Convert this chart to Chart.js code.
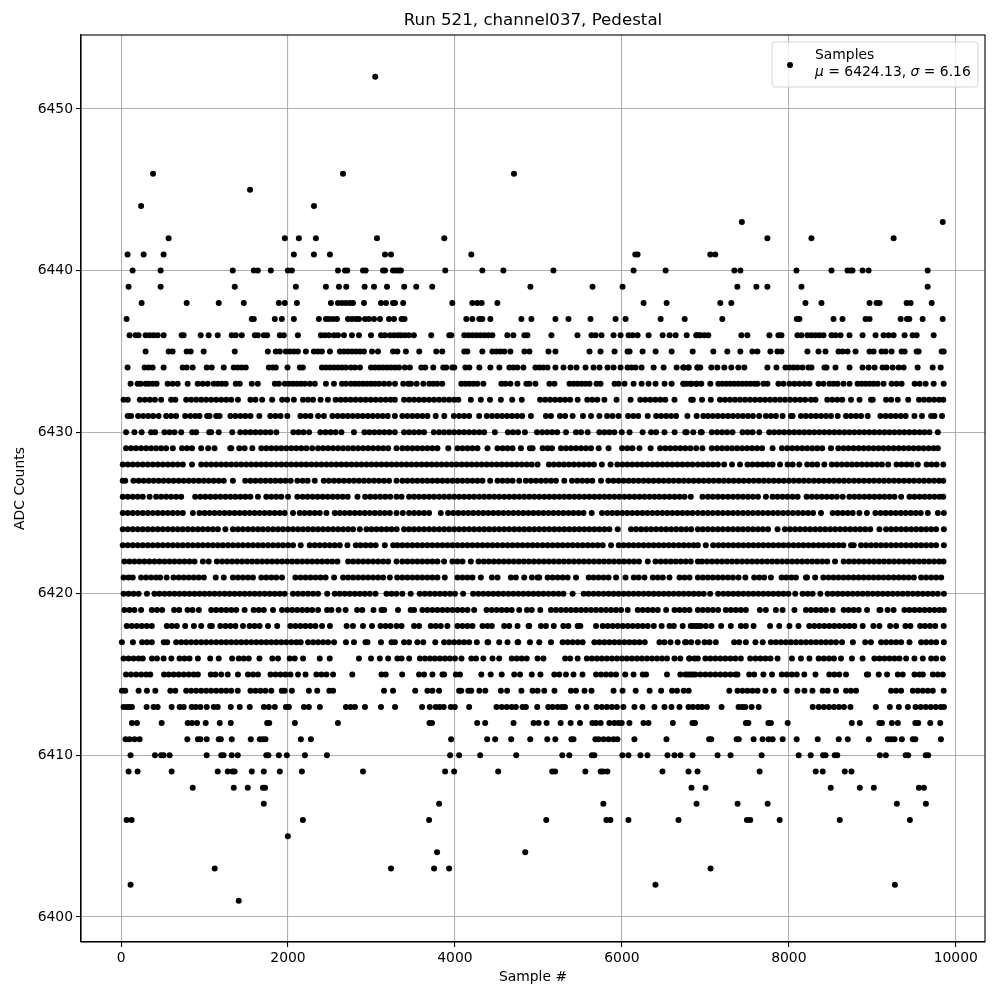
<!DOCTYPE html>
<html>
<head>
<meta charset="utf-8">
<title>Run 521, channel037, Pedestal</title>
<script src="https://cdn.jsdelivr.net/npm/chart.js@4"></script>
<style>
html, body { margin: 0; padding: 0; background: #fff; }
canvas { display: block; }
</style>
</head>
<body>
<canvas id="myChart" width="1000" height="1000"></canvas>
<script>
// sample numbers, one list per ADC level
const s6401 = [1410];
const s6402 = [114, 6402, 9270];
const s6403 = [1122, 3234, 3750, 3930, 7062];
const s6404 = [3786, 4842];
const s6405 = [1998];
const s6406 = [66, 126, 2178, 3690, 5094, 5814, 5862, 6078, 6678, 7498, 7538, 7890, 8610, 9450];
const s6407 = [1710, 3810, 5778, 6894, 7386, 7746, 9294, 9642];
const s6408 = [858, 1350, 1518, 1700, 1725, 6834, 7002, 8502, 8850, 9018, 9558, 9618];
const s6409 = [90, 198, 606, 1158, 1278, 1335, 1360, 1566, 1710, 1902, 2166, 2898, 3882, 3990, 4518, 5165, 5200, 5562, 5746, 5775, 5826, 6486, 6798, 6906, 7650, 8322, 8406, 8670, 8750];
const s6410 = [114, 406, 480, 510, 582, 1026, 1200, 1228, 1326, 1398, 1740, 1765, 1890, 1986, 2202, 2466, 3942, 4050, 4302, 4734, 5286, 5370, 5640, 5670, 6006, 6078, 6222, 6306, 6546, 6630, 6702, 6846, 7146, 7302, 7674, 8118, 8262, 8410, 8440, 8550, 8580, 9090, 9162, 9400, 9430, 9640, 9670];
const s6411 = [54, 102, 162, 222, 794, 920, 950, 1026, 1170, 1195, 1326, 1554, 1662, 1700, 1730, 2154, 2274, 3954, 4386, 4482, 4674, 4902, 5106, 5202, 5395, 5420, 5682, 5720, 5780, 5840, 5900, 5946, 6150, 6534, 7045, 7070, 7375, 7400, 7578, 7686, 7758, 7806, 7926, 8094, 8346, 8598, 8706, 8958, 9186, 9225, 9266, 9354, 9485, 9515, 9822];
const s6412 = [130, 190, 486, 798, 850, 910, 1014, 1182, 1314, 1750, 1775, 2082, 2598, 3695, 3725, 4266, 4362, 4702, 4942, 5002, 5098, 5266, 5386, 5498, 5646, 5690, 5746, 5850, 5910, 5960, 5998, 6090, 6258, 6318, 6610, 6845, 6875, 7485, 7515, 7755, 7785, 7986, 8754, 8850, 9085, 9115, 9234, 9306, 9515, 9550, 9694, 9814];
const s6413 = [30, 70, 100, 130, 306, 390, 438, 606, 702, 750, 846, 894, 950, 1026, 1110, 1158, 1314, 1422, 1542, 1710, 1770, 1842, 1974, 2010, 2190, 2250, 2382, 2694, 2750, 2802, 2922, 3114, 3282, 3606, 3698, 3770, 3818, 3866, 3950, 3998, 4170, 4498, 4560, 4620, 4680, 4730, 4810, 4850, 4986, 5118, 5170, 5230, 5280, 5318, 5474, 5574, 5698, 5760, 5820, 5880, 5940, 6018, 6150, 6246, 6390, 6510, 6594, 6690, 6798, 6850, 6910, 6960, 7018, 7194, 7398, 7440, 7478, 7554, 7638, 8286, 8358, 8420, 8480, 8540, 8600, 8660, 8738, 9042, 9210, 9318, 9426, 9518, 9580, 9640, 9700, 9760, 9820, 9858];
const s6414 = [10, 50, 210, 310, 410, 590, 650, 780, 840, 900, 960, 1020, 1080, 1140, 1200, 1260, 1320, 1398, 1550, 1610, 1670, 1730, 1800, 1925, 1960, 2046, 2250, 2350, 2495, 2540, 3150, 3258, 3524, 3670, 3730, 3810, 4050, 4075, 4160, 4195, 4292, 4364, 4550, 4625, 4796, 4930, 4990, 5070, 5192, 5390, 5450, 5552, 5636, 5900, 6008, 6165, 6332, 6470, 6600, 6660, 6740, 6800, 7287, 7385, 7445, 7505, 7565, 7625, 7719, 7819, 7971, 8103, 8187, 8283, 8405, 8465, 8565, 8685, 8745, 8805, 9225, 9285, 9345, 9485, 9545, 9605, 9665, 9725, 9855];
const s6415 = [60, 120, 180, 240, 300, 350, 515, 570, 630, 690, 750, 810, 870, 920, 1075, 1130, 1200, 1278, 1400, 1520, 1580, 1640, 1790, 1850, 1910, 1970, 2030, 2120, 2210, 2340, 2400, 2460, 2540, 2770, 3120, 3170, 3368, 3570, 3630, 3730, 3850, 3870, 4010, 4060, 4316, 4428, 4560, 4710, 4780, 4920, 5024, 5190, 5250, 5330, 5420, 5528, 5690, 5750, 5810, 5870, 5930, 6040, 6140, 6250, 6290, 6540, 6700, 6760, 6820, 6850, 6790, 6880, 6940, 7000, 7060, 7120, 7180, 7240, 7300, 7360, 7385, 7525, 7585, 7695, 7799, 7915, 7975, 8035, 8095, 8185, 8319, 8485, 8545, 8605, 8685, 8935, 8950, 9077, 9177, 9305, 9365, 9505, 9565, 9605, 9725, 9785, 9845];
const s6416 = [30, 90, 150, 210, 260, 370, 430, 510, 602, 700, 760, 820, 920, 1068, 1170, 1330, 1410, 1470, 1530, 1658, 1812, 1880, 2020, 2080, 2180, 2380, 2500, 2850, 2994, 3100, 3200, 3310, 3360, 3452, 3580, 3640, 3700, 3760, 3820, 3880, 3940, 4000, 4078, 4196, 4252, 4340, 4450, 4530, 4680, 4740, 4800, 4860, 4990, 5060, 5320, 5380, 5470, 5580, 5640, 5700, 5760, 5820, 5880, 5940, 6000, 6060, 6120, 6180, 6240, 6300, 6360, 6420, 6480, 6540, 6630, 6700, 6810, 6870, 6910, 6805, 7000, 7060, 7120, 7180, 7240, 7300, 7360, 7425, 7537, 7600, 7660, 7720, 7780, 7865, 8037, 8145, 8247, 8357, 8420, 8480, 8540, 8625, 8755, 8883, 9025, 9085, 9145, 9205, 9265, 9325, 9405, 9505, 9605, 9705, 9765, 9845];
const s6417 = [10, 142, 252, 310, 368, 512, 552, 660, 720, 780, 840, 900, 960, 1020, 1080, 1140, 1200, 1260, 1320, 1380, 1440, 1500, 1560, 1620, 1680, 1740, 1800, 1860, 1920, 1980, 2040, 2100, 2152, 2240, 2300, 2360, 2420, 2480, 2552, 2694, 2790, 2928, 2952, 3114, 3240, 3280, 3390, 3450, 3550, 3620, 3764, 3870, 3930, 3990, 4050, 4110, 4170, 4262, 4390, 4398, 4530, 4630, 4750, 4758, 4898, 5010, 5150, 5290, 5350, 5410, 5470, 5530, 5670, 5730, 5790, 5850, 5910, 5970, 6030, 6090, 6150, 6210, 6274, 6450, 6510, 6582, 6668, 6770, 6830, 6910, 6757, 6990, 7050, 7125, 7345, 7405, 7485, 7600, 7687, 7785, 7845, 7905, 7965, 8025, 8085, 8145, 8205, 8265, 8325, 8385, 8445, 8505, 8565, 8637, 8767, 8915, 8983, 9105, 9165, 9225, 9285, 9345, 9445, 9585, 9645, 9705, 9765, 9857];
const s6418 = [68, 128, 188, 248, 308, 368, 548, 608, 668, 768, 872, 960, 1068, 1088, 1188, 1250, 1310, 1370, 1460, 1540, 1600, 1660, 1760, 1870, 2028, 2088, 2148, 2208, 2268, 2328, 2408, 2502, 2702, 2778, 2898, 3006, 3108, 3168, 3228, 3300, 3360, 3510, 3570, 3710, 3770, 3830, 3910, 4030, 4090, 4150, 4210, 4330, 4390, 4442, 4590, 4650, 4750, 4882, 4890, 5030, 5090, 5184, 5298, 5358, 5470, 5502, 5690, 5770, 5830, 5890, 5950, 6010, 6070, 6130, 6190, 6250, 6310, 6382, 6476, 6570, 6622, 6728, 6850, 6910, 6825, 6885, 6945, 7005, 7073, 7189, 7305, 7425, 7485, 7577, 7775, 7885, 8007, 8115, 8245, 8305, 8365, 8425, 8485, 8545, 8605, 8665, 8725, 8785, 8885, 9013, 9085, 9213, 9285, 9397, 9457, 9573, 9630, 9690, 9753, 9855];
const s6419 = [40, 100, 160, 240, 368, 430, 492, 636, 696, 796, 856, 932, 1080, 1140, 1200, 1260, 1320, 1380, 1480, 1588, 1650, 1710, 1820, 1928, 1990, 2050, 2110, 2170, 2230, 2290, 2360, 2468, 2520, 2606, 2690, 2828, 2890, 3024, 3120, 3152, 3318, 3470, 3510, 3610, 3670, 3730, 3790, 3850, 3910, 3970, 4030, 4090, 4150, 4230, 4378, 4440, 4500, 4560, 4620, 4680, 4770, 4862, 4920, 5022, 5150, 5210, 5270, 5330, 5390, 5450, 5510, 5570, 5630, 5690, 5750, 5810, 5870, 5930, 5990, 6070, 6190, 6250, 6310, 6370, 6430, 6530, 6630, 6690, 6750, 6810, 6910, 6970, 7030, 7090, 7153, 7245, 7305, 7365, 7425, 7485, 7653, 7725, 7845, 7925, 8067, 8205, 8265, 8325, 8385, 8445, 8525, 8657, 8717, 8777, 8837, 8937, 9085, 9097, 9183, 9255, 9385, 9445, 9505, 9565, 9625, 9685, 9745, 9805, 9857];
const s6420 = [30, 90, 150, 210, 310, 400, 460, 520, 580, 640, 700, 760, 820, 880, 940, 1000, 1060, 1120, 1180, 1240, 1300, 1360, 1420, 1480, 1540, 1600, 1660, 1720, 1780, 1840, 1900, 1960, 2060, 2120, 2180, 2240, 2300, 2360, 2470, 2560, 2620, 2680, 2740, 2800, 2860, 2920, 2980, 3048, 3180, 3240, 3300, 3370, 3470, 3578, 3640, 3700, 3760, 3820, 3880, 3940, 4000, 4098, 4218, 4280, 4340, 4400, 4460, 4520, 4580, 4640, 4700, 4760, 4820, 4880, 4940, 5000, 5060, 5120, 5180, 5240, 5300, 5410, 5542, 5600, 5660, 5720, 5780, 5840, 5900, 5960, 6020, 6080, 6140, 6200, 6260, 6320, 6380, 6440, 6500, 6560, 6620, 6680, 6740, 6800, 6860, 6920, 6980, 7057, 7153, 7215, 7275, 7335, 7395, 7455, 7515, 7575, 7635, 7695, 7755, 7815, 7875, 7935, 7995, 8077, 8165, 8225, 8285, 8377, 8465, 8525, 8585, 8645, 8705, 8765, 8825, 8885, 8945, 9005, 9065, 9125, 9185, 9245, 9305, 9365, 9425, 9485, 9545, 9605, 9665, 9725, 9785, 9857];
const s6421 = [30, 90, 140, 240, 300, 360, 420, 468, 546, 628, 690, 750, 810, 870, 930, 992, 1134, 1230, 1340, 1400, 1460, 1520, 1580, 1680, 1740, 1800, 1860, 1928, 2088, 2150, 2210, 2270, 2330, 2390, 2450, 2552, 2660, 2720, 2780, 2840, 2900, 2960, 3020, 3080, 3140, 3220, 3308, 3370, 3430, 3490, 3550, 3610, 3670, 3730, 3790, 3878, 4030, 4090, 4150, 4210, 4310, 4442, 4510, 4670, 4730, 4830, 4922, 4990, 5010, 5110, 5170, 5230, 5290, 5350, 5450, 5602, 5660, 5720, 5780, 5840, 5930, 6044, 6142, 6200, 6270, 6370, 6430, 6490, 6570, 6690, 6750, 6810, 6910, 6970, 7030, 7090, 7150, 7210, 7270, 7330, 7397, 7479, 7585, 7645, 7705, 7785, 7913, 7970, 8030, 8085, 8205, 8217, 8315, 8413, 8475, 8535, 8595, 8655, 8715, 8775, 8835, 8895, 8955, 9015, 9075, 9135, 9195, 9255, 9315, 9375, 9435, 9497, 9585, 9645, 9705, 9765, 9825];
const s6422 = [40, 100, 160, 220, 280, 340, 400, 460, 520, 580, 640, 700, 760, 820, 880, 980, 1050, 1148, 1210, 1270, 1330, 1390, 1450, 1510, 1570, 1630, 1690, 1750, 1810, 1870, 1930, 1990, 2050, 2110, 2170, 2230, 2290, 2350, 2410, 2470, 2530, 2592, 2720, 2780, 2840, 2900, 2960, 3020, 3080, 3140, 3200, 3300, 3370, 3430, 3490, 3550, 3610, 3670, 3730, 3790, 3870, 3970, 4030, 4090, 4190, 4282, 4345, 4405, 4465, 4525, 4585, 4645, 4705, 4765, 4825, 4885, 4945, 5005, 5065, 5125, 5185, 5245, 5305, 5365, 5425, 5485, 5545, 5605, 5665, 5725, 5785, 5845, 5905, 5965, 6025, 6085, 6145, 6205, 6310, 6402, 6465, 6525, 6585, 6645, 6705, 6765, 6825, 6910, 6960, 7020, 7080, 7140, 7200, 7260, 7320, 7380, 7440, 7500, 7560, 7620, 7680, 7740, 7800, 7860, 7920, 7980, 8040, 8100, 8160, 8220, 8280, 8340, 8400, 8460, 8553, 8657, 8720, 8780, 8840, 8900, 8960, 9020, 9080, 9140, 9200, 9260, 9320, 9380, 9440, 9500, 9560, 9620, 9680, 9740, 9800, 9853];
const s6423 = [20, 80, 140, 200, 260, 320, 380, 440, 500, 560, 620, 680, 740, 800, 860, 920, 980, 1040, 1100, 1160, 1220, 1280, 1340, 1400, 1460, 1520, 1580, 1640, 1700, 1760, 1820, 1880, 1940, 2000, 2060, 2152, 2260, 2320, 2380, 2440, 2500, 2560, 2620, 2712, 2812, 2870, 2930, 2990, 3050, 3160, 3260, 3310, 3370, 3430, 3490, 3550, 3610, 3670, 3730, 3790, 3850, 3910, 3970, 4030, 4090, 4150, 4210, 4270, 4330, 4390, 4450, 4510, 4570, 4630, 4690, 4750, 4810, 4870, 4930, 4990, 5050, 5110, 5170, 5230, 5290, 5350, 5410, 5470, 5530, 5590, 5650, 5710, 5770, 5870, 5962, 6020, 6080, 6140, 6200, 6260, 6320, 6380, 6440, 6500, 6560, 6620, 6680, 6740, 6800, 6860, 6910, 7005, 7093, 7155, 7215, 7275, 7335, 7395, 7455, 7515, 7575, 7635, 7695, 7755, 7815, 7875, 7935, 7995, 8055, 8115, 8175, 8235, 8295, 8355, 8415, 8475, 8535, 8595, 8653, 8745, 8777, 8865, 8925, 8985, 9045, 9105, 9165, 9225, 9285, 9345, 9405, 9465, 9525, 9585, 9645, 9705, 9765, 9857];
const s6424 = [20, 80, 140, 200, 260, 320, 380, 440, 500, 560, 620, 680, 740, 800, 860, 920, 980, 1040, 1100, 1160, 1250, 1340, 1400, 1460, 1520, 1580, 1640, 1700, 1760, 1820, 1880, 1940, 2000, 2060, 2120, 2180, 2240, 2300, 2360, 2420, 2480, 2540, 2600, 2660, 2720, 2780, 2860, 2940, 3000, 3060, 3120, 3180, 3240, 3302, 3390, 3450, 3510, 3570, 3630, 3690, 3750, 3810, 3870, 3930, 3990, 4050, 4110, 4170, 4230, 4290, 4350, 4410, 4470, 4530, 4590, 4650, 4710, 4770, 4830, 4890, 4950, 5010, 5070, 5130, 5190, 5250, 5310, 5370, 5430, 5490, 5550, 5610, 5670, 5730, 5790, 5850, 5950, 6110, 6170, 6230, 6290, 6350, 6410, 6470, 6530, 6590, 6650, 6710, 6770, 6830, 6910, 6970, 7030, 7090, 7150, 7210, 7270, 7330, 7390, 7450, 7510, 7570, 7630, 7690, 7750, 7865, 7953, 8015, 8075, 8135, 8195, 8255, 8315, 8375, 8435, 8495, 8555, 8615, 8675, 8735, 8795, 8855, 8915, 8975, 9085, 9165, 9225, 9285, 9345, 9405, 9465, 9525, 9585, 9645, 9705, 9765, 9857];
const s6425 = [20, 80, 140, 200, 260, 320, 380, 440, 500, 560, 620, 680, 740, 860, 940, 1000, 1060, 1120, 1180, 1240, 1300, 1360, 1420, 1480, 1540, 1600, 1660, 1720, 1780, 1840, 1900, 1960, 2060, 2140, 2200, 2260, 2320, 2380, 2460, 2560, 2620, 2680, 2740, 2800, 2860, 2920, 2980, 3040, 3100, 3160, 3220, 3300, 3375, 3450, 3510, 3570, 3630, 3690, 3830, 3918, 3980, 4040, 4100, 4160, 4220, 4280, 4340, 4400, 4460, 4520, 4580, 4640, 4700, 4760, 4820, 4880, 4940, 5000, 5060, 5120, 5180, 5240, 5300, 5360, 5420, 5480, 5540, 5638, 5762, 5825, 5885, 5945, 6005, 6065, 6125, 6185, 6245, 6305, 6365, 6425, 6485, 6545, 6605, 6665, 6725, 6785, 6845, 6910, 6970, 7030, 7090, 7150, 7210, 7270, 7330, 7390, 7450, 7510, 7570, 7630, 7690, 7750, 7810, 7870, 7930, 7990, 8050, 8110, 8170, 8230, 8290, 8385, 8525, 8585, 8645, 8705, 8765, 8845, 8935, 9037, 9100, 9160, 9220, 9280, 9340, 9400, 9460, 9520, 9580, 9665, 9785, 9857];
const s6426 = [20, 80, 140, 200, 260, 342, 420, 480, 540, 600, 660, 720, 888, 950, 1010, 1070, 1130, 1190, 1250, 1310, 1370, 1430, 1490, 1550, 1640, 1740, 1800, 1860, 1920, 2000, 2112, 2175, 2235, 2295, 2355, 2415, 2475, 2535, 2595, 2655, 2715, 2832, 2924, 2985, 3045, 3105, 3165, 3225, 3300, 3360, 3450, 3510, 3570, 3630, 3690, 3750, 3810, 3870, 3930, 3990, 4050, 4110, 4170, 4230, 4290, 4350, 4410, 4470, 4530, 4590, 4650, 4710, 4770, 4830, 4890, 4950, 5010, 5070, 5130, 5190, 5250, 5310, 5370, 5430, 5490, 5550, 5610, 5670, 5730, 5790, 5850, 5910, 5970, 6030, 6090, 6150, 6210, 6270, 6330, 6390, 6450, 6510, 6570, 6630, 6690, 6750, 6825, 6965, 7030, 7090, 7150, 7210, 7270, 7330, 7390, 7450, 7510, 7570, 7630, 7725, 7805, 7865, 7925, 7985, 8045, 8105, 8213, 8275, 8335, 8395, 8455, 8515, 8575, 8645, 8725, 8785, 8845, 8905, 8965, 9025, 9085, 9145, 9205, 9265, 9345, 9445, 9505, 9565, 9625, 9685, 9745, 9805, 9850];
const s6427 = [20, 50, 148, 210, 270, 330, 390, 450, 510, 570, 630, 690, 750, 810, 870, 930, 990, 1050, 1110, 1170, 1230, 1340, 1488, 1550, 1610, 1670, 1730, 1790, 1850, 1910, 1970, 2032, 2112, 2175, 2235, 2320, 2428, 2490, 2550, 2610, 2670, 2730, 2790, 2850, 2910, 2970, 3030, 3090, 3150, 3210, 3300, 3370, 3430, 3490, 3550, 3610, 3670, 3730, 3790, 3850, 3910, 3970, 4030, 4090, 4150, 4210, 4270, 4330, 4422, 4510, 4570, 4630, 4690, 4770, 4850, 4910, 4970, 5030, 5090, 5150, 5210, 5310, 5402, 5465, 5525, 5585, 5645, 5750, 5838, 5900, 5960, 6020, 6080, 6140, 6200, 6260, 6320, 6380, 6440, 6500, 6560, 6620, 6680, 6740, 6800, 6860, 6920, 6980, 7040, 7100, 7160, 7220, 7280, 7340, 7400, 7460, 7520, 7580, 7640, 7700, 7760, 7820, 7880, 7940, 8000, 8060, 8120, 8180, 8240, 8300, 8360, 8420, 8480, 8540, 8600, 8660, 8720, 8780, 8840, 8900, 8960, 9020, 9080, 9140, 9200, 9260, 9320, 9380, 9440, 9500, 9560, 9620, 9680, 9740, 9800, 9850];
const s6428 = [20, 80, 140, 200, 260, 320, 380, 440, 500, 560, 620, 680, 740, 850, 960, 1020, 1080, 1140, 1200, 1260, 1320, 1380, 1440, 1500, 1560, 1620, 1680, 1740, 1800, 1860, 1920, 1980, 2040, 2100, 2160, 2220, 2280, 2340, 2400, 2460, 2520, 2580, 2640, 2700, 2760, 2820, 2880, 2940, 3000, 3060, 3120, 3180, 3240, 3300, 3360, 3420, 3480, 3540, 3600, 3660, 3720, 3780, 3840, 3900, 3960, 4020, 4080, 4140, 4200, 4260, 4320, 4380, 4440, 4500, 4560, 4620, 4680, 4740, 4800, 4860, 4920, 4990, 5125, 5185, 5245, 5305, 5365, 5425, 5485, 5545, 5605, 5665, 5760, 5864, 5945, 6005, 6065, 6125, 6185, 6245, 6305, 6365, 6425, 6485, 6545, 6605, 6665, 6725, 6785, 6845, 6910, 6970, 7030, 7090, 7150, 7225, 7320, 7415, 7505, 7565, 7625, 7685, 7745, 7805, 7895, 7985, 8045, 8125, 8220, 8280, 8340, 8425, 8515, 8575, 8635, 8695, 8755, 8815, 8875, 8935, 8995, 9055, 9115, 9190, 9290, 9350, 9410, 9470, 9545, 9650, 9710, 9770, 9850];
const s6429 = [60, 120, 180, 240, 300, 360, 420, 480, 540, 620, 730, 790, 850, 960, 1044, 1120, 1308, 1320, 1416, 1480, 1572, 1680, 1740, 1800, 1860, 1920, 1980, 2040, 2100, 2160, 2220, 2290, 2360, 2420, 2480, 2540, 2600, 2660, 2720, 2780, 2840, 2900, 2960, 3020, 3080, 3140, 3200, 3300, 3370, 3430, 3490, 3550, 3610, 3670, 3730, 3790, 3920, 4030, 4090, 4150, 4210, 4270, 4390, 4510, 4570, 4630, 4690, 4790, 4898, 4930, 5050, 5110, 5162, 5270, 5330, 5390, 5450, 5510, 5570, 5630, 5722, 5840, 6002, 6065, 6125, 6210, 6344, 6458, 6520, 6580, 6640, 6700, 6760, 6820, 6890, 6965, 7077, 7140, 7200, 7260, 7320, 7380, 7440, 7500, 7560, 7620, 7680, 7805, 7917, 7980, 8040, 8100, 8160, 8220, 8280, 8340, 8400, 8505, 8593, 8655, 8715, 8775, 8835, 8895, 8955, 9015, 9075, 9135, 9195, 9255, 9315, 9375, 9435, 9495, 9555, 9615, 9675, 9735, 9785];
const s6430 = [60, 160, 246, 360, 408, 520, 580, 640, 720, 852, 900, 1056, 1080, 1170, 1332, 1428, 1490, 1550, 1610, 1670, 1730, 1790, 1860, 2064, 2125, 2185, 2252, 2388, 2450, 2510, 2570, 2640, 2790, 2916, 2975, 3035, 3095, 3155, 3215, 3280, 3390, 3450, 3510, 3570, 3630, 3746, 3810, 3870, 3930, 3990, 4050, 4110, 4170, 4230, 4290, 4350, 4478, 4634, 4695, 4755, 4838, 4982, 5045, 5105, 5165, 5225, 5330, 5450, 5510, 5590, 5730, 5790, 5850, 5910, 5998, 6092, 6248, 6350, 6410, 6510, 6632, 6776, 6759, 6855, 6945, 6957, 7077, 7140, 7200, 7260, 7325, 7445, 7505, 7565, 7645, 7765, 7825, 7885, 7945, 8005, 8065, 8125, 8185, 8245, 8305, 8365, 8425, 8485, 8545, 8605, 8665, 8725, 8785, 8845, 8905, 8965, 9025, 9085, 9145, 9205, 9265, 9325, 9385, 9445, 9505, 9565, 9625, 9685, 9785];
const s6431 = [80, 120, 204, 265, 325, 385, 450, 540, 600, 660, 768, 830, 890, 940, 1030, 1060, 1140, 1180, 1310, 1370, 1430, 1490, 1550, 1656, 1788, 1850, 1910, 1992, 2148, 2210, 2270, 2360, 2430, 2532, 2595, 2655, 2715, 2775, 2835, 2895, 2955, 3015, 3075, 3135, 3195, 3280, 3370, 3430, 3490, 3550, 3610, 3670, 3770, 3872, 3986, 4050, 4110, 4170, 4290, 4382, 4445, 4505, 4565, 4625, 4685, 4745, 4805, 4910, 5090, 5150, 5258, 5320, 5410, 5534, 5630, 5730, 5822, 5888, 5960, 6074, 6135, 6195, 6310, 6410, 6470, 6530, 6590, 6650, 6785, 6895, 6975, 7030, 7090, 7150, 7210, 7270, 7330, 7390, 7450, 7510, 7570, 7645, 7725, 7785, 7845, 7925, 8025, 8045, 8145, 8205, 8265, 8325, 8385, 8445, 8505, 8585, 8685, 8745, 8805, 8865, 8945, 9097, 9160, 9220, 9280, 9340, 9400, 9505, 9595, 9705, 9745, 9835];
const s6432 = [30, 80, 225, 285, 345, 405, 480, 600, 650, 780, 840, 900, 960, 1020, 1080, 1140, 1200, 1260, 1320, 1400, 1550, 1610, 1690, 1810, 1930, 1990, 2070, 2180, 2240, 2300, 2390, 2478, 2570, 2630, 2690, 2750, 2810, 2870, 2930, 2990, 3050, 3110, 3170, 3230, 3280, 3390, 3450, 3510, 3570, 3630, 3690, 3750, 3810, 3870, 3930, 3990, 4040, 4190, 4310, 4420, 4550, 4685, 4800, 5020, 5080, 5140, 5200, 5260, 5320, 5380, 5470, 5585, 5645, 5705, 5790, 5936, 6104, 6220, 6280, 6340, 6400, 6460, 6520, 6630, 6830, 6850, 6960, 7065, 7175, 7235, 7295, 7355, 7415, 7475, 7535, 7595, 7655, 7715, 7775, 7835, 7895, 7955, 8015, 8075, 8135, 8195, 8265, 8319, 8460, 8520, 8580, 8640, 8745, 8847, 8985, 9005, 9165, 9225, 9305, 9430, 9560, 9620, 9680, 9740, 9800, 9850];
const s6433 = [114, 198, 234, 294, 330, 378, 426, 558, 618, 678, 798, 918, 978, 1038, 1110, 1158, 1206, 1254, 1374, 1422, 1566, 1638, 1842, 1890, 1962, 2010, 2058, 2106, 2154, 2202, 2262, 2322, 2454, 2550, 2646, 2694, 2754, 2802, 2850, 2898, 2946, 2994, 3042, 3090, 3150, 3210, 3282, 3380, 3440, 3472, 3540, 3620, 3692, 3740, 3788, 3848, 4076, 4124, 4172, 4220, 4268, 4340, 4556, 4604, 4664, 4748, 4856, 4892, 4964, 5132, 5192, 5372, 5420, 5468, 5516, 5564, 5612, 5696, 5744, 5912, 5960, 6032, 6140, 6236, 6320, 6404, 6512, 6596, 6740, 6776, 6836, 6896, 6735, 6819, 6891, 6951, 7059, 7155, 7203, 7251, 7299, 7347, 7395, 7443, 7491, 7539, 7587, 7623, 7695, 7743, 7875, 7935, 8007, 8067, 8127, 8187, 8247, 8355, 8415, 8487, 8535, 8583, 8655, 8727, 8823, 8871, 8919, 8967, 9015, 9063, 9135, 9231, 9291, 9351, 9507, 9567, 9639, 9735, 9855];
const s6434 = [78, 282, 330, 378, 510, 738, 786, 858, 1026, 1086, 1230, 1350, 1398, 1446, 1494, 1770, 1818, 1854, 1994, 2142, 2178, 2406, 2454, 2502, 2550, 2598, 2646, 2694, 2754, 2802, 2862, 2994, 3042, 3090, 3138, 3186, 3234, 3282, 3330, 3400, 3460, 3596, 3644, 3740, 3860, 3896, 3968, 3992, 4124, 4172, 4292, 4424, 4532, 4652, 4700, 4748, 4820, 4964, 5012, 5060, 5108, 5204, 5300, 5384, 5456, 5564, 5660, 5732, 5828, 5900, 5984, 6068, 6116, 6164, 6236, 6380, 6500, 6656, 6740, 6800, 6908, 6735, 6795, 6903, 6939, 7071, 7143, 7227, 7311, 7395, 7467, 7743, 7851, 7959, 8007, 8055, 8103, 8163, 8235, 8271, 8427, 8451, 8559, 8727, 8883, 8955, 9027, 9123, 9171, 9243, 9315, 9375, 9543, 9723, 9819];
const s6435 = [294, 570, 618, 786, 834, 990, 1362, 1758, 1854, 1902, 1974, 2022, 2070, 2118, 2214, 2310, 2358, 2406, 2502, 2622, 2670, 2718, 2766, 2814, 2862, 2910, 3006, 3078, 3258, 3310, 3412, 3572, 3776, 3848, 4112, 4148, 4328, 4448, 4496, 4544, 4592, 4664, 4832, 4892, 5120, 5204, 5612, 5744, 5912, 6068, 6092, 6248, 6404, 6596, 6848, 7095, 7263, 7419, 7563, 7623, 7779, 7863, 7911, 8223, 8355, 8439, 8595, 8643, 8703, 8799, 8967, 9015, 9111, 9159, 9231, 9351, 9387, 9531, 9555, 9831, 9855];
const s6436 = [102, 174, 210, 294, 342, 390, 438, 510, 726, 750, 954, 1050, 1158, 1326, 1374, 1446, 1602, 1638, 1710, 1750, 1902, 1950, 2118, 2394, 2442, 2490, 2550, 2598, 2670, 2766, 2850, 2994, 3114, 3162, 3222, 3270, 3318, 3352, 3400, 3448, 3508, 3716, 3932, 3956, 4112, 4160, 4208, 4256, 4304, 4352, 4400, 4448, 4628, 4700, 4832, 4868, 5156, 5468, 5636, 5684, 5756, 5900, 5984, 6080, 6128, 6188, 6320, 6488, 6572, 6644, 6776, 6896, 6932, 6891, 6939, 6987, 7035, 7431, 7503, 7767, 7875, 7911, 8103, 8151, 8223, 8271, 8319, 8367, 8415, 8511, 8559, 8619, 8727, 8883, 9039, 9135, 9195, 9255, 9387, 9483, 9531, 9735];
const s6437 = [66, 1566, 1590, 1842, 1926, 2070, 2370, 2454, 2490, 2538, 2586, 2718, 2766, 2814, 2850, 2922, 2970, 3030, 3102, 3210, 3270, 3360, 3396, 4136, 4208, 4292, 4328, 4424, 4796, 4916, 5204, 5360, 5624, 5924, 6044, 6464, 6752, 7203, 8095, 8127, 8535, 8643, 8919, 8967, 9339, 9415, 9443, 9603, 9843];
const s6438 = [246, 786, 1170, 1470, 1890, 1962, 2106, 2514, 2598, 2646, 2694, 2742, 2778, 2910, 3114, 3174, 3258, 3282, 3380, 3968, 4208, 4268, 4320, 4508, 6260, 6536, 7179, 7311, 8199, 8391, 8967, 9051, 9087, 9411, 9459, 9711];
const s6439 = [90, 474, 1362, 2094, 2454, 2610, 2698, 2918, 3030, 3186, 3392, 3536, 3728, 4904, 5648, 6008, 7383, 7611, 7743, 8151, 9663];
const s6440 = [138, 474, 1338, 1590, 1638, 1794, 1998, 2046, 2598, 2682, 2710, 2898, 2930, 3138, 3162, 3258, 3298, 3330, 3352, 3884, 4328, 4580, 5180, 6140, 6524, 7347, 7419, 8091, 8511, 8703, 8739, 8763, 8883, 8955, 9663];
const s6441 = [78, 270, 510, 2070, 2310, 2502, 3162, 3234, 4196, 6160, 6188, 7059, 7119];
const s6442 = [570, 1962, 2130, 2334, 3066, 3872, 7743, 8271, 9255];
const s6443 = [7437, 9844];
const s6444 = [240, 2311];
const s6445 = [1545];
const s6446 = [383, 2659, 4707];
const s6452 = [3045];

const levels = [
    [6401, s6401], [6402, s6402], [6403, s6403], [6404, s6404], [6405, s6405], [6406, s6406],
    [6407, s6407], [6408, s6408], [6409, s6409], [6410, s6410], [6411, s6411], [6412, s6412],
    [6413, s6413], [6414, s6414], [6415, s6415], [6416, s6416], [6417, s6417], [6418, s6418],
    [6419, s6419], [6420, s6420], [6421, s6421], [6422, s6422], [6423, s6423], [6424, s6424],
    [6425, s6425], [6426, s6426], [6427, s6427], [6428, s6428], [6429, s6429], [6430, s6430],
    [6431, s6431], [6432, s6432], [6433, s6433], [6434, s6434], [6435, s6435], [6436, s6436],
    [6437, s6437], [6438, s6438], [6439, s6439], [6440, s6440], [6441, s6441], [6442, s6442],
    [6443, s6443], [6444, s6444], [6445, s6445], [6446, s6446], [6452, s6452]
];
const xTicks = [0, 2000, 4000, 6000, 8000, 10000];
const yTicks = [6400, 6410, 6420, 6430, 6440, 6450];
const seriesLabel = 'Samples';
const meanText = ' = 6424.13, ';
const sigmaText = ' = 6.16';

const points = [];
levels.forEach(function (row) {
    row[1].forEach(function (s) { points.push({ x: s, y: row[0] }); });
});

const FONT = '"DejaVu Sans"';
Chart.defaults.font.family = FONT;
Chart.defaults.color = '#000';

// spines on all four sides and the matplotlib style legend box
const framePlugin = {
    id: 'frame',
    afterLayout: function (chart) {
        // centre the title over the axes, not the canvas
        chart.titleBlock.left = chart.chartArea.left;
        chart.titleBlock.right = chart.chartArea.right;
    },
    afterDraw: function (chart) {
        const c = chart.ctx, a = chart.chartArea;
        c.save();
        c.strokeStyle = '#000';
        c.lineWidth = 1.1;
        c.strokeRect(a.left, a.top, a.right - a.left, a.bottom - a.top);

        c.beginPath();
        c.roundRect(772, 42, 206, 45, 3);
        c.fillStyle = 'rgba(255,255,255,0.8)';
        c.fill();
        c.strokeStyle = 'rgba(204,204,204,0.8)';
        c.lineWidth = 1;
        c.stroke();

        c.beginPath();
        c.arc(790, 65, 3, 0, Math.PI * 2);
        c.fillStyle = '#000';
        c.fill();

        c.textBaseline = 'alphabetic';
        c.font = '13.9px ' + FONT;
        c.fillText(seriesLabel, 815, 59);
        let x = 815;
        [['\u03bc', true], [meanText, false], ['\u03c3', true], [sigmaText, false]].forEach(function (p) {
            c.font = (p[1] ? 'italic ' : '') + '13.9px ' + FONT;
            c.fillText(p[0], x, 76);
            x += c.measureText(p[0]).width;
        });
        c.restore();
    }
};

const ctx = document.getElementById('myChart').getContext('2d');
const myChart = new Chart(ctx, {
    type: 'scatter',
    data: {
        datasets: [{
            label: seriesLabel,
            data: points,
            pointRadius: 3,
            pointBorderWidth: 0,
            pointBackgroundColor: '#000',
            showLine: false
        }]
    },
    options: {
        responsive: false,
        animation: false,
        events: [],
        layout: { padding: { left: 0, right: 15, top: 0, bottom: 0 } },
        plugins: {
            legend: { display: false },
            tooltip: { enabled: false },
            title: {
                display: true,
                text: 'Run 521, channel037, Pedestal',
                color: '#000',
                font: { size: 16.67, weight: 'normal' },
                padding: { top: 11, bottom: 4 }
            }
        },
        scales: {
            x: {
                type: 'linear',
                min: -480,
                max: 10350,
                afterBuildTicks: function (s) { s.ticks = xTicks.map(function (v) { return { value: v }; }); },
                afterFit: function (s) { s.height = 58; },
                grid: { color: '#b0b0b0', lineWidth: 1.1, tickColor: '#000', tickLength: 5 },
                border: { color: '#000', width: 1.1 },
                ticks: {
                    maxRotation: 0,
                    autoSkip: false,
                    padding: 3,
                    font: { size: 13.9 },
                    callback: function (v) { return String(v); }
                },
                title: { display: true, text: 'Sample #', font: { size: 13.9 }, padding: { top: 0, bottom: 14 } }
            },
            y: {
                type: 'linear',
                min: 6398.45,
                max: 6454.58,
                afterBuildTicks: function (s) { s.ticks = yTicks.map(function (v) { return { value: v }; }); },
                afterFit: function (s) { s.width = 81; },
                grid: { color: '#b0b0b0', lineWidth: 1.1, tickColor: '#000', tickLength: 5 },
                border: { color: '#000', width: 1.1 },
                ticks: {
                    autoSkip: false,
                    padding: 3,
                    font: { size: 13.9 },
                    callback: function (v) { return String(v); }
                },
                title: { display: true, text: 'ADC Counts', font: { size: 13.9 }, padding: { top: 12, bottom: 0 } }
            }
        }
    },
    plugins: [framePlugin]
});
</script>
</body>
</html>
